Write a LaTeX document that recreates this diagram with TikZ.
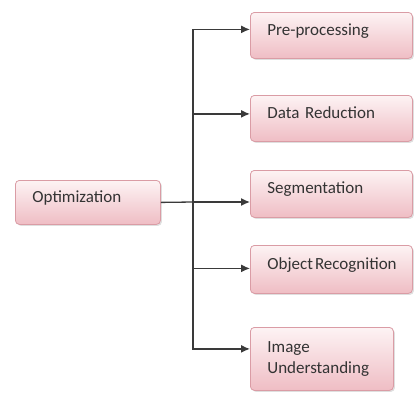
\documentclass[tikz,border=0pt]{standalone}
\usepackage{fontspec}
\setmainfont{Carlito}
\usetikzlibrary{arrows.meta,shadows}

\definecolor{boxtop}{HTML}{FDF3F4}
\definecolor{boxbot}{HTML}{EFBDC4}
\definecolor{boxline}{HTML}{DA9CA5}
\definecolor{linegray}{HTML}{3A3A3A}
\definecolor{textgray}{HTML}{333333}

\tikzset{
    stage/.style={rectangle, rounded corners=4pt, draw=boxline, line width=0.8pt,
        top color=boxtop, bottom color=boxbot,
        drop shadow={shadow xshift=1.5pt, shadow yshift=-1.5pt, opacity=0.25},
        anchor=north west, align=left, inner xsep=17pt, inner ysep=0pt,
        text=textgray, font=\fontsize{17}{21}\selectfont},
    oneline/.style={text height=12pt, text depth=12pt},
    conn/.style={draw=linegray, line width=1.3pt, -{Latex[length=9pt,width=8pt]}},
    trunk/.style={draw=linegray, line width=1.3pt}
}

\begin{document}
\begin{tikzpicture}[x=1pt,y=-1pt]
        \useasboundingbox (0,0) rectangle (415,392);
        % left box
        \node[stage, oneline, minimum width=145pt, minimum height=44pt, text width=111pt] (opt) at (15,180) {Optimization};
        % right column
        \node[stage, oneline, minimum width=162pt, minimum height=46pt, text width=128pt] (pre) at (250,12) {Pre-processing};
        \node[stage, oneline, minimum width=162pt, minimum height=46pt, text width=128pt] (data) at (250,95) {Data Reduction};
        \node[stage, oneline, minimum width=162pt, minimum height=47pt, text width=128pt] (seg) at (250,170) {Segmentation};
        \node[stage, oneline, minimum width=162pt, minimum height=48pt, text width=128pt] (obj) at (250,245) {\mbox{Object\hspace{0.12em}Recognition}};
        \node[stage, minimum width=143pt, minimum height=63pt, text width=109pt] (img) at (250,327) {Image\\Understanding};
        \coordinate (fork) at (193,202);
        \draw[trunk] (opt.east) -- (fork);
        \draw[conn] (fork) -- (seg.west |- fork);
        \draw[conn] (fork) |- ([yshift=6pt]pre.west);
        \draw[conn] (fork) |- ([yshift=4.5pt]data.west);
        \draw[conn] (fork) |- ([yshift=1pt]obj.west);
        \draw[conn] (fork) |- ([yshift=10pt]img.west);
    \end{tikzpicture}
\end{document}
